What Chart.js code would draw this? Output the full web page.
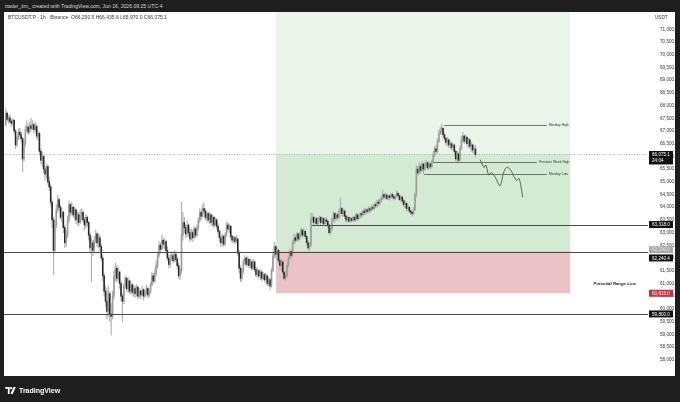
<!DOCTYPE html>
<html>
<head>
<meta charset="utf-8">
<script src="https://cdn.jsdelivr.net/npm/chart.js@4.4.1/dist/chart.umd.min.js"></script>
<style>
  html, body { margin: 0; padding: 0; width: 680px; height: 402px; overflow: hidden; background: #1e1e1e; font-family: "Liberation Sans", Arial, sans-serif; }
  #hdr { position: absolute; left: 5px; top: 3px; font-size: 5.1px; color: #d8d8d8; white-space: nowrap; }
  #panel { position: absolute; left: 4px; top: 12px; width: 671px; height: 364px; background: #fff; }
  #chart { position: absolute; left: 0; top: 0; }
  #sym { position: absolute; left: 8px; top: 14px; font-size: 5px; color: #333; white-space: nowrap; }
  #logo { position: absolute; left: 5px; top: 384px; height: 12px; display: flex; align-items: center; color: #fff; font-weight: bold; font-size: 7px; }
  #logo svg { margin-right: 3px; }
</style>
</head>
<body>
<div id="hdr">trader_tim_ created with TradingView.com, Jun 16, 2026 09:25 UTC-4</div>
<div id="panel"></div>
<canvas id="chart" width="680" height="402"></canvas>
<div id="sym">BTCUSDT.P · 1h · Binance &nbsp;O66,290.5 H66,435.6 L65,970.0 C66,075.1</div>
<div id="logo"><svg width="11" height="7" viewBox="0 0 12 8"><path d="M0 0h5v8H3V2H0z" fill="#fff"/><circle cx="6.6" cy="1.4" r="1.3" fill="#fff"/><path d="M9.4 0H12L8.6 8H6z" fill="#fff"/></svg>TradingView</div>
<script>
// hourly candles, hour 0 = day 3 00:00
const startHour = -12;
const firstOpen = 67250;
const closes = [
  67700, 67450, 67520, 67380, 67300, 67420, 67000, 66450, 66700, 66950, 66850, 66700,
  65900, 66500, 67050, 67150, 66950, 67200, 67100, 67250, 67050, 67180, 66800, 66900,
  66200, 65850, 66000, 65500, 65300, 65600, 65000, 64800, 64200, 63500, 62300, 63300,
  63900, 64300, 64000, 63600, 63800, 63200, 62600, 62900, 63500, 64100, 63800, 64000,
  63700, 63900, 63500, 63700, 63400, 63650, 63800, 63500, 63300, 63600, 63400, 62900,
  62400, 62600, 62300, 62700, 62950, 62600, 62800, 62450, 62000, 61300, 60700, 60300,
  59900, 60600, 59800, 59700, 60500, 61300, 61600, 61200, 61450, 61000, 60500, 60300,
  60900, 61200, 60800, 61100, 60700, 60950, 60650, 60800, 60600, 60850, 60500, 60700,
  60550, 60750, 60500, 60650, 60800, 60550, 60700, 60950, 61300, 61100, 61400, 61700,
  62100, 62500, 62350, 62700, 62550, 62650, 62300, 62000, 61750, 62000, 62100, 61900,
  62150, 61950, 61700, 61300, 61500, 62900, 63400, 63200, 62950, 63300, 63000, 62750,
  63000, 62800, 63150, 62900, 63200, 63500, 63800, 63650, 63950, 63850, 63600, 63750,
  63500, 63700, 63400, 63600, 63300, 63500, 63250, 63050, 62800, 62600, 62850, 62550,
  62900, 63300, 63150, 63250, 62850, 62700, 62800, 62650, 62750, 62200, 61600, 61200,
  61500, 61850, 62000, 61750, 61950, 61700, 61850, 61600, 61850, 61550, 61350, 61500,
  61300, 61450, 61200, 61350, 61150, 61300, 61000, 61150, 60900, 61500, 62100, 62450,
  62150, 62300, 61900, 61700, 61850, 61450, 61200, 61300, 61700, 62000, 62250, 62100,
  62600, 62800, 62700, 62950, 62750, 62900, 63100, 62900, 63050, 62850, 62600, 62400,
  62500, 63500, 63600, 63400, 63550, 63350, 63500, 63600, 63400, 63550, 63350, 63500,
  63450, 63300, 63000, 63150, 63500, 63750, 63550, 63700, 63600, 63850, 63950, 63750,
  63850, 63650, 63500, 63600, 63450, 63550, 63480, 63600, 63500, 63700, 63550, 63650,
  63750, 63700, 63850, 63780, 63900, 63820, 63950, 63880, 64000, 63950, 64100, 64050,
  64200, 64150, 64280, 64350, 64500, 64400, 64480, 64350, 64450, 64380, 64500, 64420,
  64350, 64450, 64550, 64450, 64300, 64400, 64250, 64100, 64150, 63950, 64000, 63850,
  63800, 63750, 63900, 64500, 65500, 65350, 65600, 65450, 65700, 65500, 65650, 65750,
  65550, 65700, 65600, 65800, 66050, 66300, 66200, 66600, 66900, 67000, 67100, 66850,
  66700, 66550, 66650, 66450, 66500, 66350, 66450, 66200, 65900, 66100, 65850, 66300,
  66650, 66800, 66600, 66750, 66500, 66650, 66400, 66450, 66250, 66290.5, 66075.1
];
const highs = [
  67880, 67760, 67600, 67640, 67450, 67500, 67450, 67050, 66800, 67080, 67100, 66980,
  66750, 66650, 67200, 67400, 67250, 67350, 67500, 67400, 67300, 67350, 67250, 67050,
  66950, 66300, 66150, 66050, 65600, 65700, 65650, 65200, 64900, 64300, 63600, 63500,
  64100, 64490, 64350, 64100, 63950, 63850, 63300, 63100, 63650, 64250, 64150, 64200,
  64050, 64000, 63950, 63800, 63800, 63900, 63950, 63850, 63600, 63700, 63650, 63450,
  63000, 62800, 62700, 62850, 63100, 63000, 62950, 62900, 62550, 62100, 61400, 60900,
  60800, 60900, 60700, 60200, 60700, 61500, 61800, 61700, 61650, 61500, 61100, 60600,
  61000, 61300, 61250, 61250, 61150, 61100, 61000, 60950, 60900, 60950, 60900, 60800,
  60750, 60900, 60800, 60750, 60950, 60850, 60800, 61050, 61450, 61400, 61550, 61900,
  62200, 62650, 62600, 62910, 62800, 62750, 62700, 62450, 62100, 62150, 62250, 62200,
  62300, 62250, 62050, 61800, 61600, 64200, 63800, 63600, 63300, 63450, 63350, 63150,
  63150, 63100, 63250, 63200, 63300, 63600, 63950, 63900, 64100, 64170, 63950, 63850,
  63800, 63800, 63750, 63700, 63650, 63600, 63550, 63350, 63100, 62900, 62950, 62900,
  63000, 63420, 63400, 63350, 63300, 62900, 62850, 62850, 62900, 62800, 62300, 61700,
  61600, 61950, 62100, 62050, 62050, 62000, 61950, 61920, 61950, 61900, 61650, 61600,
  61550, 61550, 61500, 61450, 61400, 61400, 61350, 61250, 61200, 61600, 62250, 62630,
  62500, 62400, 62350, 62000, 61950, 61900, 61500, 61400, 61800, 62100, 62350, 62300,
  62700, 62950, 62900, 63000, 63000, 62990, 63190, 63150, 63150, 63100, 62900, 62700,
  62600, 63780, 63750, 63650, 63620, 63600, 63600, 63650, 63620, 63620, 63600, 63580,
  63600, 63500, 63350, 63200, 63600, 63810, 63800, 63780, 63750, 63950, 64370, 64000,
  63950, 63900, 63700, 63650, 63620, 63600, 63600, 63650, 63650, 63780, 63750, 63720,
  63800, 63820, 63900, 63950, 63970, 63950, 64000, 64020, 64050, 64080, 64150, 64200,
  64280, 64300, 64350, 64450, 64680, 64550, 64560, 64520, 64500, 64480, 64560, 64560,
  64450, 64500, 64650, 64600, 64480, 64450, 64420, 64300, 64250, 64200, 64100, 64050,
  63900, 63850, 64000, 64600, 65650, 65600, 65750, 65700, 65800, 65750, 65780, 65850,
  65800, 65780, 65750, 65850, 66200, 66400, 66450, 66700, 67050, 67150, 67280, 67150,
  66900, 66750, 66750, 66700, 66600, 66550, 66500, 66450, 66250, 66200, 66150, 66400,
  66800, 66950, 66850, 66850, 66800, 66720, 66700, 66550, 66480, 66400, 66435.6
];
const lows = [
  67200, 67380, 67300, 67320, 67150, 67240, 66900, 66300, 66380, 66650, 66760, 66560,
  65400, 65800, 66400, 66950, 66850, 66900, 67000, 67050, 66900, 66980, 66700, 66650,
  66050, 65700, 65600, 65350, 65050, 65150, 64900, 64650, 64050, 63200, 61350, 62200,
  63200, 63800, 63850, 63500, 63400, 63000, 62400, 62450, 62800, 63400, 63650, 63700,
  63600, 63550, 63350, 63300, 63250, 63350, 63500, 63400, 63100, 63200, 63250, 62700,
  62200, 61080, 62100, 62200, 62600, 62450, 62400, 62300, 61900, 61100, 60500, 60100,
  59600, 59700, 59500, 58980, 59600, 60400, 61100, 61050, 61100, 60800, 60300, 59500,
  60200, 60800, 60700, 60650, 60600, 60600, 60550, 60500, 60450, 60500, 60400, 60450,
  60400, 60500, 60350, 60450, 60550, 60450, 60450, 60600, 60900, 61000, 61050, 61300,
  61600, 62000, 62200, 62300, 62400, 62350, 62150, 61900, 61600, 61650, 61900, 61800,
  61850, 61850, 61600, 61200, 61150, 61400, 62700, 63000, 62800, 62850, 62850, 62650,
  62700, 62650, 62750, 62800, 62850, 63100, 63400, 63500, 63600, 63750, 63500, 63450,
  63400, 63350, 63300, 63250, 63200, 63250, 63150, 62950, 62650, 62450, 62500, 62450,
  62500, 62850, 63050, 63000, 62750, 62600, 62600, 62550, 62600, 62100, 61400, 61060,
  61100, 61400, 61750, 61650, 61700, 61600, 61600, 61500, 61550, 61450, 61250, 61250,
  61200, 61150, 61100, 61150, 61050, 61100, 60900, 60900, 60750, 60850, 61450, 62000,
  62000, 61950, 61800, 61550, 61500, 61350, 61150, 61120, 61250, 61650, 61950, 61950,
  62050, 62550, 62600, 62650, 62650, 62700, 62850, 62800, 62850, 62750, 62500, 62300,
  62320, 62450, 63400, 63300, 63350, 63300, 63300, 63400, 63320, 63350, 63300, 63300,
  63350, 63200, 62920, 62950, 63100, 63450, 63400, 63500, 63500, 63550, 63750, 63650,
  63650, 63550, 63420, 63420, 63400, 63400, 63420, 63450, 63420, 63450, 63480, 63500,
  63550, 63600, 63650, 63700, 63720, 63750, 63780, 63800, 63850, 63880, 63900, 63980,
  64000, 64050, 64100, 64200, 64300, 64320, 64350, 64300, 64300, 64280, 64350, 64350,
  64280, 64300, 64380, 64400, 64250, 64200, 64150, 64000, 63980, 63850, 63850, 63780,
  63700, 63650, 63700, 63850, 64400, 65250, 65300, 65350, 65400, 65300, 65450, 65550,
  65480, 65500, 65500, 65550, 65750, 66000, 66100, 66150, 66550, 66850, 66900, 66750,
  66600, 66450, 66400, 66350, 66300, 66250, 66250, 66050, 65800, 65750, 65780, 65800,
  66250, 66550, 66500, 66550, 66400, 66350, 66300, 66200, 66150, 66100, 65970
];

// hand-drawn projected path after the last candle
const projHours = [325.3, 328.1, 329.5, 331.4, 333.3, 335.9, 339.5, 341.9, 344.2, 347.1, 349.4, 351.3, 352.8, 354.2, 355.6];
const projPrices = [65880, 65560, 65660, 65270, 65360, 65200, 64840, 65340, 65570, 65460, 65200, 65050, 65140, 64880, 64390];

// long position tool
const posStartHour = 180.2, posEndHour = 389.3;
const targetPrice = 72500, entryPrice = 62290, stopPrice = 60615;
const lastPrice = 66075.1;

// drawn levels
const levelLines = [
  { price: 62240.4, from: null, to: null },
  { price: 59800, from: null, to: null },
  { price: 63318, from: 205.8, to: null }
];
const namedLevels = [
  { label: 'Monday High', price: 67250, from: 299.7, to: 372.7 },
  { label: 'Previous Week High', price: 65770, from: 291.9, to: 365.6 },
  { label: 'Monday Low', price: 65320, from: 285.5, to: 372.7 }
];
const priceTags = [
  { text: '63,318.0', price: 63318, bg: '#111', fg: '#fff', shift: 0 },
  { text: '62,290.0', price: 62290, bg: '#a9a9a9', fg: '#e4e4e4', shift: -1 },
  { text: '62,240.4', price: 62240.4, bg: '#111', fg: '#fff', shift: 6 },
  { text: '60,615.0', price: 60615, bg: '#c9303b', fg: '#fff', shift: 0 },
  { text: '59,800.0', price: 59800, bg: '#111', fg: '#fff', shift: 0 }
];
const dayTicks = [0, 24, 48, 72, 96, 120, 144, 168, 192, 216, 240, 264, 288, 312, 336, 360, 384, 408, 432];
const priceTicks = [];
for (let p = 58000; p <= 71000; p += 500) priceTicks.push(p);

const bodies = [], wicks = [], bodyColors = [];
let prev = firstOpen;
closes.forEach((c, i) => {
  const o = prev;
  const h = startHour + i;
  const hi = Math.max(highs[i], o, c), lo = Math.min(lows[i], o, c);
  bodies.push({ x: h, y: [o, c] });
  wicks.push({ x: h, y: [lo, hi] });
  bodyColors.push(c >= o ? '#9a9a9a' : '#262626');
  prev = c;
});

const fmt = v => v.toLocaleString('en-US', { minimumFractionDigits: 1, maximumFractionDigits: 1 });

const tvPlugin = {
  id: 'tv',
  beforeDatasetsDraw(chart) {
    const { ctx, chartArea: a, scales: { x, y } } = chart;
    ctx.save();
    ctx.beginPath();
    ctx.rect(a.left, a.top, a.right - a.left, a.bottom - a.top);
    ctx.clip();
    const x0 = x.getPixelForValue(posStartHour), x1 = x.getPixelForValue(posEndHour);
    const yT = y.getPixelForValue(targetPrice), yE = y.getPixelForValue(entryPrice);
    const yS = y.getPixelForValue(stopPrice), yL = y.getPixelForValue(lastPrice);
    ctx.fillStyle = '#e9f5e9';
    ctx.fillRect(x0, yT, x1 - x0, yE - yT);
    ctx.fillStyle = '#d3ebd3';
    ctx.fillRect(x0, yL, x1 - x0, yE - yL);
    ctx.fillStyle = '#ebc3c7';
    ctx.fillRect(x0, yE, x1 - x0, yS - yE);
    // last price dotted line
    ctx.strokeStyle = '#a0a0a0';
    ctx.lineWidth = 0.8;
    ctx.setLineDash([1, 1.5]);
    ctx.beginPath();
    ctx.moveTo(a.left, Math.round(yL) + 0.5);
    ctx.lineTo(a.right, Math.round(yL) + 0.5);
    ctx.stroke();
    ctx.restore();
  },
  afterDatasetsDraw(chart) {
    const { ctx, chartArea: a, scales: { x, y } } = chart;
    ctx.save();
    ctx.beginPath();
    ctx.rect(a.left, a.top, a.right - a.left, a.bottom - a.top);
    ctx.clip();
    ctx.strokeStyle = '#4a4a4a';
    ctx.lineWidth = 1;
    levelLines.forEach(l => {
      const yy = Math.round(y.getPixelForValue(l.price)) + 0.5;
      const xa = l.from == null ? a.left : x.getPixelForValue(l.from);
      const xb = l.to == null ? a.right : x.getPixelForValue(l.to);
      ctx.beginPath(); ctx.moveTo(xa, yy); ctx.lineTo(xb, yy); ctx.stroke();
    });
    ctx.strokeStyle = '#555';
    ctx.lineWidth = 0.8;
    ctx.fillStyle = '#333';
    ctx.font = '3.4px "Liberation Sans", Arial, sans-serif';
    ctx.textBaseline = 'middle';
    namedLevels.forEach(l => {
      const yy = Math.round(y.getPixelForValue(l.price)) + 0.5;
      const xa = x.getPixelForValue(l.from), xb = x.getPixelForValue(l.to);
      ctx.beginPath(); ctx.moveTo(xa, yy); ctx.lineTo(xb, yy); ctx.stroke();
      ctx.fillText(l.label, xb + 2, yy);
    });
    ctx.font = 'italic bold 4.3px "Liberation Sans", Arial, sans-serif';
    ctx.textAlign = 'center';
    ctx.fillStyle = '#222';
    ctx.fillText('Potential Range Low', x.getPixelForValue(421), y.getPixelForValue(60990));
    ctx.restore();
  },
  afterDraw(chart) {
    const { ctx, chartArea: a, scales: { y } } = chart;
    ctx.save();
    ctx.font = '4.6px "Liberation Sans", Arial, sans-serif';
    ctx.textBaseline = 'middle';
    ctx.textAlign = 'left';
    ctx.fillStyle = '#333';
    ctx.fillText('USDT', 655, 18);
    const bx = a.right + 1, bw = 24;
    priceTags.forEach(t => {
      const yy = y.getPixelForValue(t.price) + t.shift;
      ctx.fillStyle = t.bg;
      ctx.fillRect(bx, yy - 3.5, bw, 7);
      ctx.fillStyle = t.fg;
      ctx.fillText(t.text, bx + 3, yy + 0.3);
    });
    const yl = y.getPixelForValue(lastPrice);
    ctx.fillStyle = '#111';
    ctx.fillRect(bx, yl - 3.5, bw, 13.5);
    ctx.fillStyle = '#fff';
    ctx.fillText(fmt(lastPrice), bx + 3, yl + 0.3);
    ctx.fillText('24:04', bx + 3, yl + 6.3);
    ctx.restore();
  }
};

new Chart(document.getElementById('chart'), {
  type: 'bar',
  data: {
    datasets: [{
      label: 'bodies',
      data: bodies,
      backgroundColor: bodyColors,
      barThickness: 0.9,
      minBarLength: 0.7,
      grouped: false
    }, {
      label: 'wicks',
      data: wicks,
      backgroundColor: '#b0b0b0',
      barThickness: 0.5,
      grouped: false
    }, {
      type: 'line',
      label: 'projection',
      data: projHours.map((h, i) => ({ x: h, y: projPrices[i] })),
      borderColor: '#2a2a2a',
      borderWidth: 0.7,
      pointRadius: 0,
      tension: 0.3,
      fill: false
    }]
  },
  options: {
    responsive: false,
    animation: false,
    events: [],
    layout: { padding: { left: 4, top: 12, right: 5, bottom: 26 } },
    plugins: { legend: { display: false }, tooltip: { enabled: false } },
    scales: {
      x: {
        type: 'linear',
        min: -13.2,
        max: 444.7,
        offset: false,
        grid: { display: false, offset: false },
        border: { display: false },
        afterBuildTicks: s => { s.ticks = dayTicks.map(v => ({ value: v })); },
        afterFit: s => { s.height = 12; },
        ticks: {
          autoSkip: false,
          maxRotation: 0,
          padding: 4,
          color: '#333',
          font: { size: 4.6, family: '"Liberation Sans", Arial, sans-serif' },
          callback: v => String(3 + v / 24)
        }
      },
      y: {
        position: 'right',
        min: 57831,
        max: 71681,
        grid: { display: false },
        border: { display: false },
        afterBuildTicks: s => { s.ticks = priceTicks.map(v => ({ value: v })); },
        afterFit: s => { s.width = 27; },
        ticks: {
          padding: 4,
          color: '#333',
          crossAlign: 'near',
          font: { size: 4.6, family: '"Liberation Sans", Arial, sans-serif' },
          callback: v => fmt(v)
        }
      }
    }
  },
  plugins: [tvPlugin]
});
</script>
</body>
</html>
